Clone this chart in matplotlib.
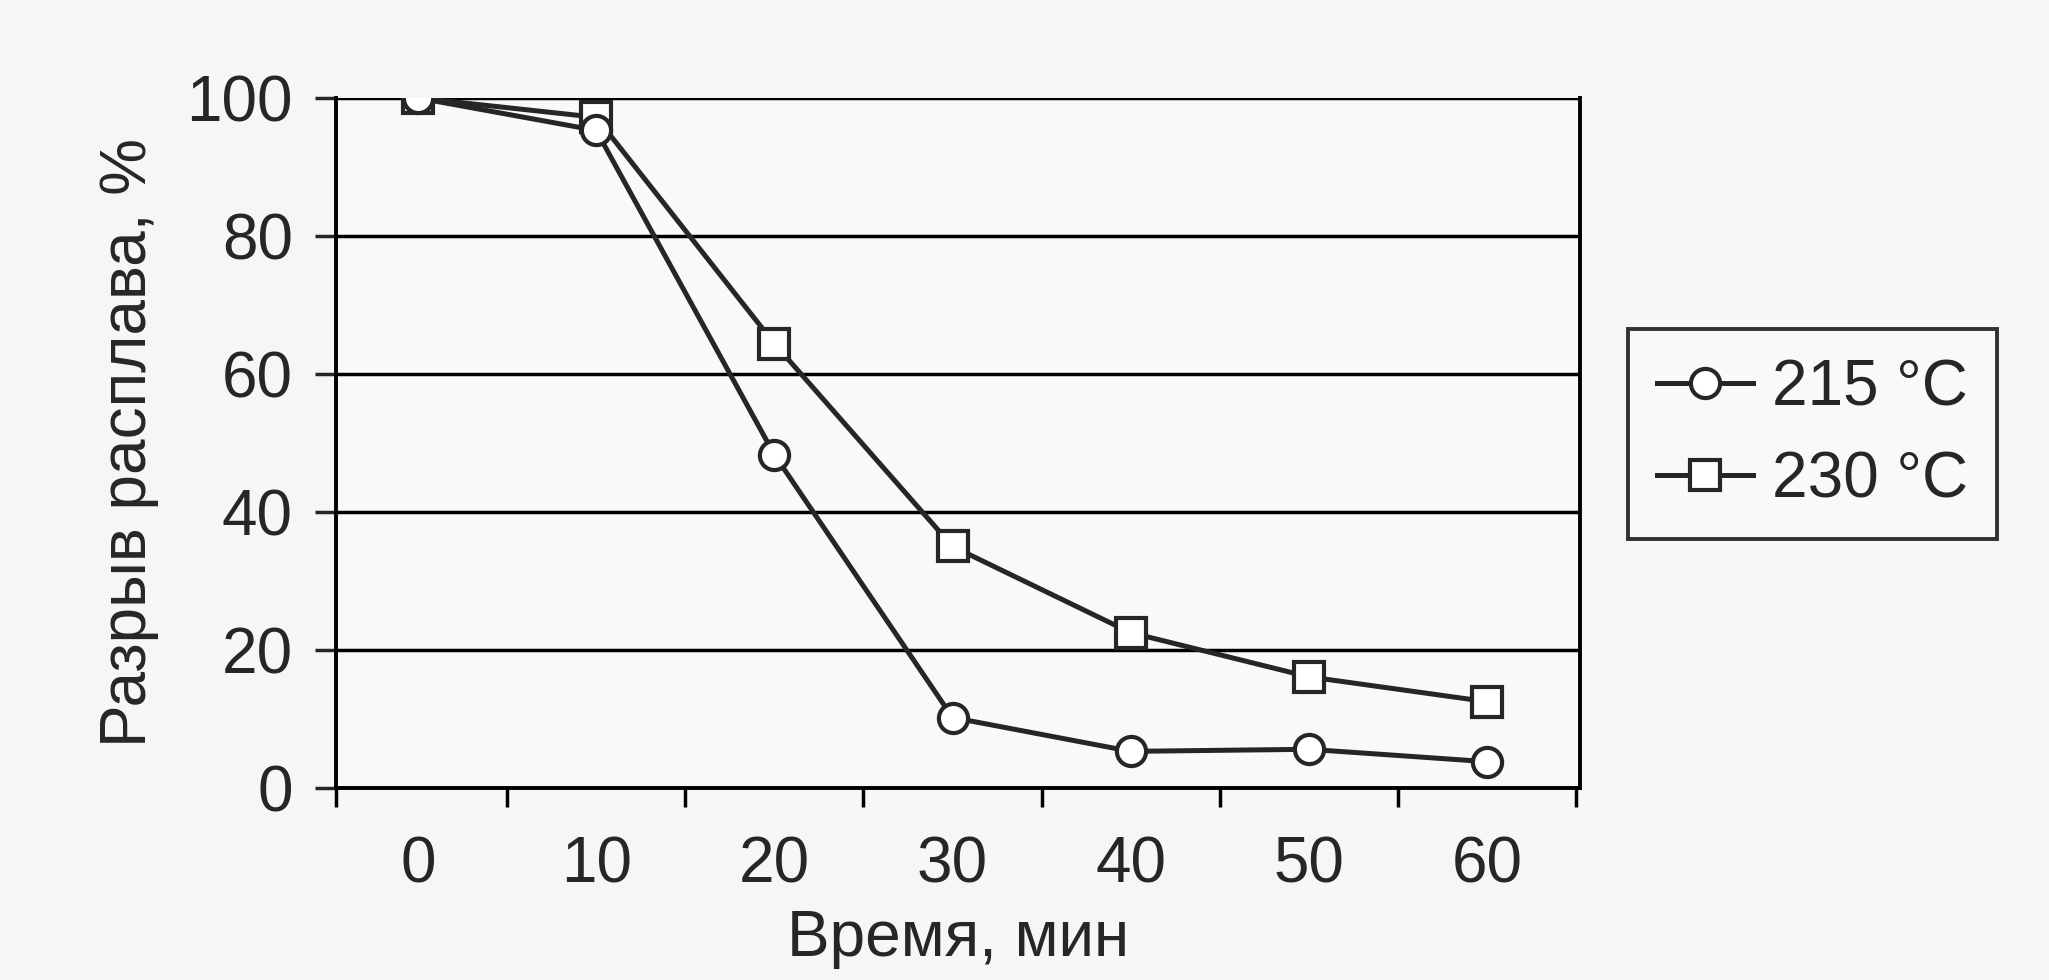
import numpy as np
import matplotlib.pyplot as plt

plt.rcParams['font.family'] = ['Liberation Sans', 'DejaVu Sans']

# data
time_labels = ['0', '10', '20', '30', '40', '50', '60']
melt_215 = [100, 95.3, 48.3, 10.2, 5.3, 5.6, 3.8]
melt_230 = [100, 97.2, 64.4, 35, 22.5, 16.1, 12.5]

ink = '#262626'
fs = 46
x = np.arange(len(time_labels))

fig = plt.figure(figsize=(20.49, 9.8), dpi=100, facecolor='#f6f6f6')
ax = fig.add_axes([0.164, 0.196, 0.607, 0.704])
ax.set_facecolor('#f9f9f9')

l1, = ax.plot(x, melt_215, color=ink, lw=3.6, marker='o', ms=21,
              mfc='white', mec=ink, mew=3, label='215 °C', zorder=4)
l2, = ax.plot(x, melt_230, color=ink, lw=3.6, marker='s', ms=22,
              mfc='white', mec=ink, mew=3, label='230 °C', zorder=3)

x0, x1 = -0.46, 6.52
ax.set_xlim(x0, x1)
ax.set_ylim(0, 100)
ax.set_yticks([0, 20, 40, 60, 80, 100])
ax.yaxis.grid(True, color='black', lw=2.5)
ax.set_axisbelow(True)

# category axis: labels in the middle, tick marks on the boundaries
ax.set_xticks(x)
ax.set_xticklabels(time_labels)
ax.set_xticks([x0] + list(np.arange(0.5, 7, 1)), minor=True)
ax.tick_params(axis='x', which='major', length=0, pad=34, labelsize=fs, colors=ink)
ax.tick_params(axis='x', which='minor', length=14, width=2.5, direction='out')
ax.tick_params(axis='y', length=15, width=2.5, direction='out', pad=16,
               labelsize=fs, colors=ink)

ax.spines['top'].set_visible(False)
for s in ['left', 'bottom', 'right']:
    ax.spines[s].set_linewidth(2.8)
    ax.spines[s].set_color('black')

ax.set_xlabel('Время, мин', fontsize=fs, color=ink, labelpad=10)
ax.set_ylabel('Разрыв расплава, %', fontsize=fs, color=ink, labelpad=20)

leg = fig.legend(handles=[l1, l2], loc='center left', bbox_to_anchor=(0.779, 0.557),
                 fontsize=fs, frameon=True, fancybox=False, edgecolor='black',
                 handlelength=1.5, handletextpad=0.3, borderpad=0.45,
                 labelspacing=0.5, markerscale=1.0)
leg.get_frame().set_linewidth(2.8)
leg.get_frame().set_facecolor('#fafafa')
for t in leg.get_texts():
    t.set_color(ink)

plt.savefig('out.png', dpi=100, facecolor=fig.get_facecolor())
